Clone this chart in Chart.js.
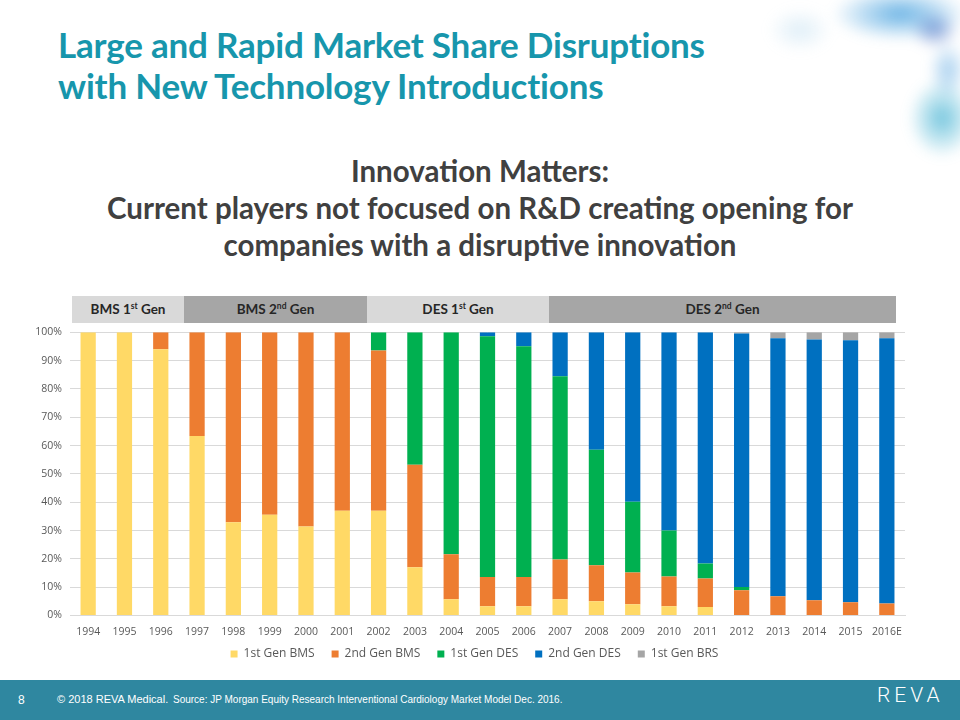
<!DOCTYPE html>
<html>
<head>
<meta charset="utf-8">
<script src="https://cdn.jsdelivr.net/npm/chart.js@4"></script>
<style>
  html,body{margin:0;padding:0;background:#fff;}
  body{width:960px;height:720px;position:relative;overflow:hidden;font-family:"Open Sans",sans-serif;}
  #smoke{position:absolute;left:760px;top:-10px;width:220px;height:190px;filter:blur(6px);
    background:
      radial-gradient(ellipse 30px 24px at 175px 40px, rgba(35,85,185,0.5), rgba(35,85,185,0) 80%),
      radial-gradient(ellipse 85px 34px at 140px 24px, rgba(30,140,215,0.65), rgba(30,140,215,0) 80%),
      radial-gradient(ellipse 24px 36px at 188px 80px, rgba(60,150,220,0.45), rgba(60,150,220,0) 80%),
      radial-gradient(ellipse 42px 50px at 182px 128px, rgba(25,160,200,0.6), rgba(25,160,200,0) 80%),
      radial-gradient(ellipse 40px 28px at 40px 40px, rgba(150,200,230,0.3), rgba(150,200,230,0) 80%);}
  #title{position:absolute;left:58px;top:24px;color:#1796ac;font-family:"Lato",sans-serif;font-weight:700;font-size:35px;line-height:41px;letter-spacing:-0.2px;}
  #sub{position:absolute;left:0;width:960px;top:152px;text-align:center;color:#404040;font-family:"Lato",sans-serif;font-weight:700;font-size:29.5px;line-height:37px;}
  .band{position:absolute;top:296px;height:27px;line-height:27px;text-align:center;font-family:"Lato",sans-serif;font-weight:700;font-size:13.5px;color:#262626;}
  .band sup{font-size:8.5px;vertical-align:5px;line-height:0;}
  .light{background:#d9d9d9;}
  .dark{background:#a6a6a6;}
  #chartwrap{position:absolute;left:0;top:318px;width:960px;height:352px;}
  #footer{position:absolute;left:0;top:680px;width:960px;height:40px;background:#2f87a0;color:#fff;}
  #footer span{position:absolute;top:13px;font-family:"Liberation Sans",sans-serif;}
  #logo{position:absolute;left:877px;top:5px;font-family:"Roboto",sans-serif;font-weight:300;font-size:21px;line-height:21px;letter-spacing:4px;color:#fff;}
</style>
</head>
<body>
<div id="smoke"></div>
<div id="title">Large and Rapid Market Share Disruptions<br>with New Technology Introductions</div>
<div id="sub">Innovation Matters:<br>Current players not focused on R&amp;D creating opening for<br>companies with a disruptive innovation</div>
<div class="band light" style="left:72px;width:112px;">BMS 1<sup>st</sup> Gen</div>
<div class="band dark" style="left:184px;width:183px;">BMS 2<sup>nd</sup> Gen</div>
<div class="band light" style="left:367px;width:182px;">DES 1<sup>st</sup> Gen</div>
<div class="band dark" style="left:549px;width:347px;">DES 2<sup>nd</sup> Gen</div>
<div id="chartwrap"><canvas id="c" width="960" height="352"></canvas></div>
<div id="footer">
  <span style="left:18px;font-size:12px;">8</span>
  <span style="left:57px;font-size:11px;">© 2018 REVA Medical.</span>
  <span style="left:173px;top:14px;font-size:10px;">Source: JP Morgan Equity Research Interventional Cardiology Market Model Dec. 2016.</span>
  <div id="logo">REVA</div>
</div>
<script>
const categories = ["1994","1995","1996","1997","1998","1999","2000","2001","2002","2003","2004","2005","2006","2007","2008","2009","2010","2011","2012","2013","2014","2015","2016E"];
const gen1BMS = [100,100,94,63.4,32.9,35.6,31.4,37,37,17,5.7,3.3,3.3,5.7,5,4,3.3,3,0,0,0,0,0];
const gen2BMS = [0,0,6,36.6,67.1,64.4,68.6,63,56.6,36.2,15.9,10.3,10.3,14.1,12.7,11.2,10.5,10.1,8.9,6.8,5.4,4.7,4.2];
const gen1DES = [0,0,0,0,0,0,0,0,6.4,46.8,78.4,85,81.5,64.7,40.8,25,16.2,5.3,1.2,0,0,0,0];
const gen2DES = [0,0,0,0,0,0,0,0,0,0,0,1.4,4.9,15.5,41.5,59.8,70,81.6,89.5,91.1,92.1,92.5,93.7];
const gen1BRS = [0,0,0,0,0,0,0,0,0,0,0,0,0,0,0,0,0,0,0.4,2.1,2.5,2.8,2.1];
const yTicks = ["0%","10%","20%","30%","40%","50%","60%","70%","80%","90%","100%"];

const mk = (label, data, color) => ({label, data, backgroundColor: color, borderWidth: 0, barPercentage: 0.42, categoryPercentage: 1});

// let tick labels draw outside the tightened axis boxes (v4 clips labels to the axis box)
const unclip = {
  id: 'unclip',
  afterLayout(chart) {
    chart.scales.x.bottom = chart.scales.x.top + 30;
    chart.scales.y.left = 0;
  }
};

new Chart(document.getElementById('c'), {
  type: 'bar',
  data: {
    labels: categories,
    datasets: [
      mk('1st Gen BMS', gen1BMS, '#ffd966'),
      mk('2nd Gen BMS', gen2BMS, '#ed7d31'),
      mk('1st Gen DES', gen1DES, '#00b050'),
      mk('2nd Gen DES', gen2DES, '#0070c0'),
      mk('1st Gen BRS', gen1BRS, '#a5a5a5')
    ]
  },
  plugins: [unclip],
  options: {
    responsive: false,
    animation: false,
    layout: {padding: {left: 44, right: 55, top: 8, bottom: 0}},
    plugins: {
      legend: {position: 'bottom', maxHeight: 48,
               labels: {boxWidth: 7, boxHeight: 7, color: '#595959', font: {family: 'Open Sans', size: 12}, padding: 17}},
      tooltip: {enabled: false}
    },
    scales: {
      x: {stacked: true, grid: {display: false, drawTicks: false}, border: {color: '#d9d9d9'},
          afterFit: s => { s.height = 15.5; },
          ticks: {color: '#595959', font: {family: 'Open Sans', size: 10.5}, maxRotation: 0, autoSkip: false, padding: 10}},
      y: {stacked: true, min: 0, max: 100,
          afterFit: s => { s.width = 26; },
          grid: {color: '#d9d9d9', drawTicks: false}, border: {display: false},
          ticks: {stepSize: 10, padding: 8, color: '#595959', font: {family: 'Open Sans', size: 10.5},
                  callback: (v) => yTicks[Math.round(v/10)]}}
    }
  }
});
</script>
</body>
</html>
